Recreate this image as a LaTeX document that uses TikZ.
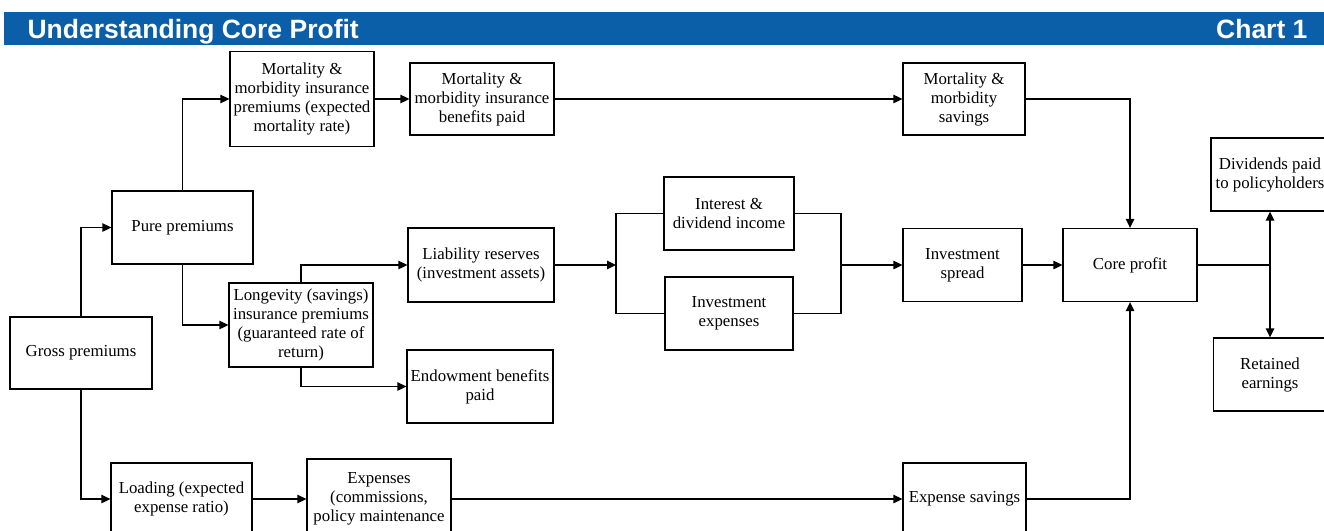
\documentclass[tikz,border=0pt]{standalone}
\usepackage{fontspec}
\setmainfont{Liberation Serif}
\newfontfamily\headfont{Liberation Sans}
\usetikzlibrary{arrows.meta}
\definecolor{chartblue}{HTML}{0B5FA8}

\begin{document}
\begin{tikzpicture}[
  x=1pt, y=-1pt,
  every node/.style={font=\fontsize{16.8}{19}\selectfont, align=center},
  box/.style={draw=black, line width=1.3pt, inner sep=2pt},
  arr/.style={-{Triangle[length=9pt,width=8.5pt]}, line width=1.3pt},
  link/.style={line width=1.3pt}
]
\useasboundingbox (0,0) rectangle (1324,530);

% heading bar
\fill[chartblue] (4,12) rectangle (1324,45);
\node[anchor=base west, text=white, font=\headfont\bfseries\fontsize{26.5}{28}\selectfont] (title) at (24,38) {Understanding Core Profit};
\node[anchor=base east, text=white, font=\headfont\bfseries\fontsize{26.5}{28}\selectfont] (chartno) at (1311,38) {Chart 1};

% premiums
\node[box, minimum width=142, minimum height=72] (gross) at (81,353) {Gross premiums};
\node[box, minimum width=141, minimum height=73] (pure) at (182.5,227.5) {Pure premiums};
\node[box, minimum width=141, minimum height=72] (loading) at (181.5,499) {Loading (expected\\expense ratio)};
\node[box, minimum width=144, minimum height=95] (mortprem) at (302,99) {Mortality \&\\morbidity insurance\\premiums (expected\\mortality rate)};
\node[box, minimum width=144, minimum height=84] (longev) at (301,325) {Longevity (savings)\\insurance premiums\\(guaranteed rate of\\return)};

% benefits, reserves, expenses
\node[box, minimum width=144, minimum height=72] (mortben) at (482,99) {Mortality \&\\morbidity insurance\\benefits paid};
\node[box, minimum width=146, minimum height=74] (liab) at (481,265) {Liability reserves\\(investment assets)};
\node[box, minimum width=146, minimum height=73] (endow) at (480,386.5) {Endowment benefits\\paid};
\node[box, minimum width=144, minimum height=80] (expenses) at (379,499) {Expenses\\(commissions,\\policy maintenance};

% investment
\node[box, minimum width=130, minimum height=73] (interest) at (729,213.5) {Interest \&\\dividend income};
\node[box, minimum width=128, minimum height=73] (invexp) at (729,313.5) {Investment\\expenses};
\coordinate (splitL) at (616,265);
\coordinate (joinR) at (841,265);

% savings and spread
\node[box, minimum width=122, minimum height=72] (mortsav) at (964,99) {Mortality \&\\morbidity\\savings};
\node[box, minimum width=119, minimum height=73] (invspread) at (962.5,265) {Investment\\spread};
\node[box, minimum width=123, minimum height=72] (expsav) at (964.5,499) {Expense savings};

% profit
\node[box, minimum width=134, minimum height=73] (core) at (1130,265) {Core profit};
\coordinate (fork) at (1270,265);
\node[box, minimum width=118, minimum height=73] (divid) at (1270,174.5) {Dividends paid\\to policyholders};
\node[box, minimum width=113, minimum height=73] (retained) at (1270,374.5) {Retained\\earnings};

% connectors
\draw[arr] (gross.north) |- (pure.west);
\draw[arr] (gross.south) |- (loading.west);
\draw[arr] (pure.north) |- (mortprem.west);
\draw[arr] (pure.south) |- (longev.west);
\draw[arr] (mortprem.east) -- (mortben.west);
\draw[arr] (mortben.east) -- (mortsav.west);
\draw[arr] (longev.north) |- (liab.west);
\draw[arr] (longev.south) |- (endow.west);
\draw[arr] (liab.east) -- (splitL);
\draw[link] (interest.west) -| (splitL) |- (invexp.west);
\draw[link] (interest.east) -| (joinR) |- (invexp.east);
\draw[arr] (joinR) -- (invspread.west);
\draw[arr] (loading.east) -- (loading.east -| expenses.west);
\draw[arr] (expenses.east |- expsav.west) -- (expsav.west);
\draw[arr] (mortsav.east) -| (core.north);
\draw[arr] (invspread.east) -- (core.west);
\draw[arr] (expsav.east) -| (core.south);
\draw[link] (core.east) -- (fork);
\draw[arr] (fork) -- (divid.south);
\draw[arr] (fork) -- (retained.north);
\end{tikzpicture}
\end{document}
